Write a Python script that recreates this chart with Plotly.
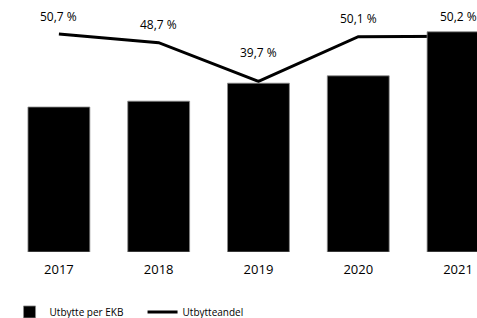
import plotly.graph_objects as go

years = ["2017", "2018", "2019", "2020", "2021"]
utbytte_per_ekb = [3.95, 4.11, 4.60, 4.80, 6.00]
utbytteandel = [50.7, 48.7, 39.7, 50.1, 50.2]
andel_labels = ["50,7 %", "48,7 %", "39,7 %", "50,1 %", "50,2 %"]

label_shift = [7.5, 8, 18.5, 7.5, 9.5]

FONT = "Open Sans"

fig = go.Figure()

# line on primary axis (drawn underneath), bars on overlaying axis
fig.add_trace(go.Scatter(
    x=years, y=utbytteandel, name="Utbytteandel", mode="lines",
    line=dict(color="black", width=3), yaxis="y",
))
fig.add_trace(go.Bar(
    x=years, y=utbytte_per_ekb, name="Utbytte per EKB",
    marker=dict(color="black", line=dict(color="#8a8a8a", width=0.8)),
    width=0.62, yaxis="y2",
))

for i, (v, lab, s) in enumerate(zip(utbytteandel, andel_labels, label_shift)):
    fig.add_annotation(x=i, y=v, xref="x", yref="y", text=lab, showarrow=False,
                       yanchor="bottom", yshift=s,
                       font=dict(family=FONT, size=12, color="black"))

fig.update_layout(
    width=477, height=318,
    margin=dict(l=9, r=0, t=10, b=66),
    paper_bgcolor="white", plot_bgcolor="white",
    font=dict(family=FONT, color="black"),
    xaxis=dict(type="category", range=[-0.5, 4.19], showgrid=False, showline=False,
               zeroline=False, ticks="", ticklabelstandoff=8,
               tickfont=dict(family=FONT, size=13, color="black")),
    yaxis=dict(range=[0, 56.3], showticklabels=False, showgrid=False,
               zeroline=False, showline=False, ticks=""),
    yaxis2=dict(range=[0, 6.594], overlaying="y", showticklabels=False,
                showgrid=False, zeroline=False, showline=False, ticks=""),
    showlegend=True,
    legend=dict(orientation="h", xref="container", yref="container",
                x=0.02, xanchor="left", y=0.019, yanchor="middle",
                traceorder="reversed", itemwidth=30,
                entrywidth=88, entrywidthmode="pixels",
                font=dict(family=FONT, size=10, color="black")),
)

fig.write_html(
    "out.html",
    config={"displayModeBar": False},
    post_script="document.body.style.margin='0';document.body.style.overflow='hidden';",
)
